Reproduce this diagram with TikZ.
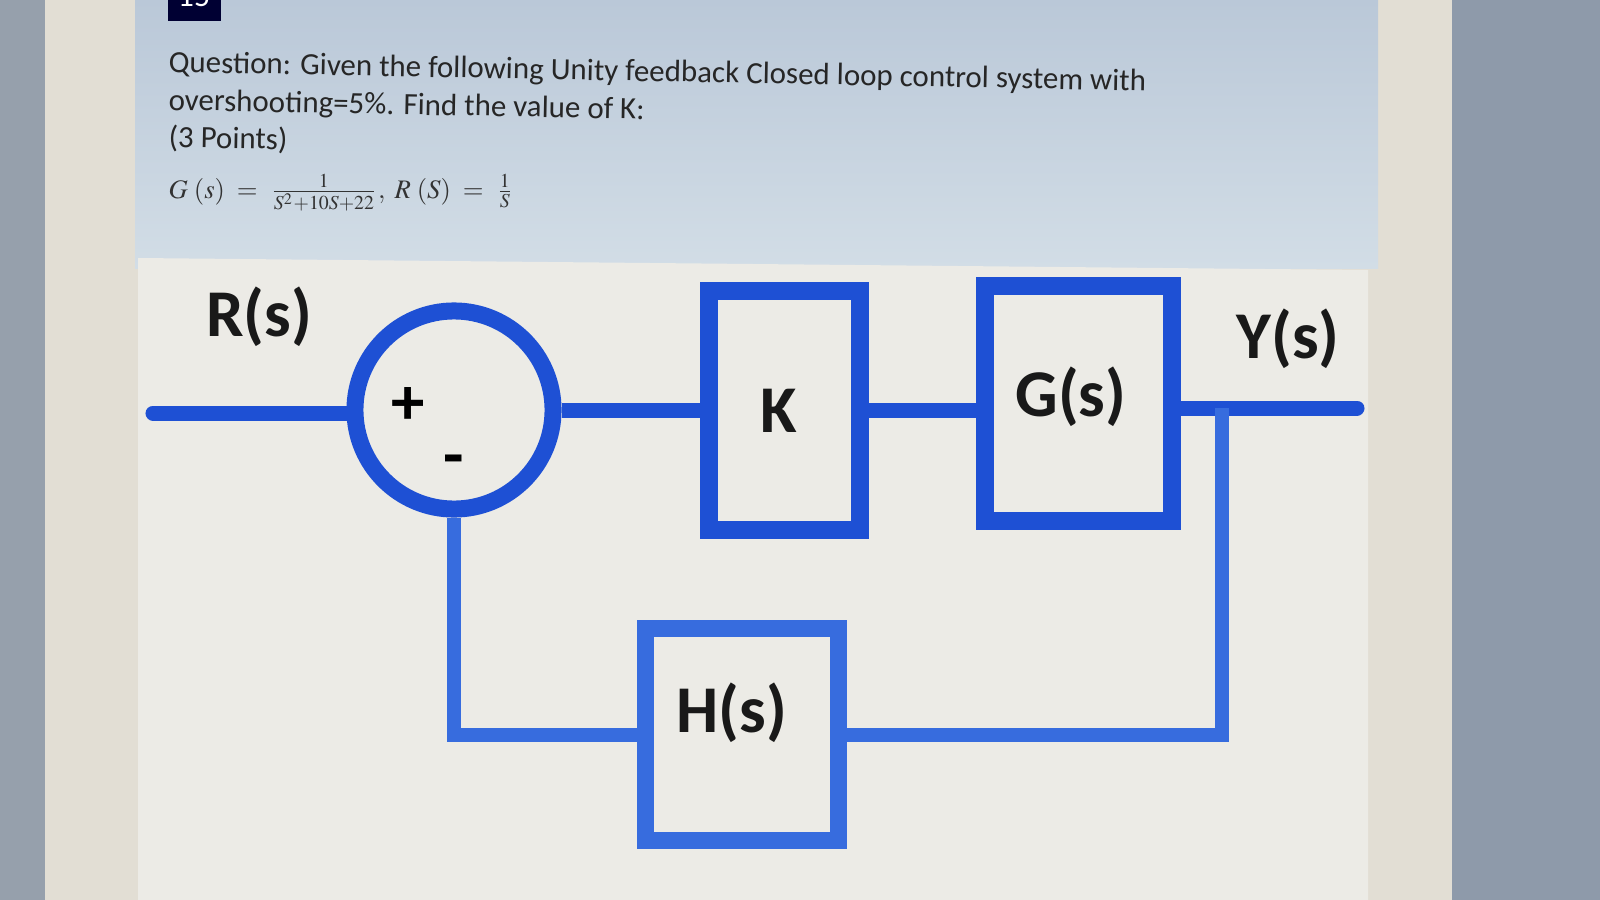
\documentclass[tikz,border=0pt]{standalone}
\usepackage{mathptmx}
\usepackage{fontspec}
\setmainfont{Carlito}
\begin{document}
\begin{tikzpicture}[x=0.01cm,y=-0.01cm,
  blk/.style={draw=bluebd, line width=0.18cm, rectangle, inner sep=0pt},
  fbblk/.style={draw=bluefb, line width=0.17cm, rectangle, inner sep=0pt},
  wire/.style={draw=bluebd, line width=0.15cm},
  fbwire/.style={draw=bluefb, line width=0.14cm},
  lbl/.style={font=\fontsize{19}{23}\selectfont\bfseries, text=black!90, inner sep=0pt},
  qtext/.style={font=\fontsize{8.8}{10}\selectfont, anchor=west, inner sep=0pt, text=black!85, rotate=-1.1}
]
\definecolor{bluebd}{RGB}{30,80,212}
\definecolor{bluefb}{RGB}{55,108,222}
\definecolor{bgbeige}{RGB}{226,222,212}
\definecolor{leftgray}{RGB}{150,160,172}
\definecolor{rightgray}{RGB}{142,154,170}
\definecolor{paneltop}{RGB}{186,200,216}
\definecolor{panelbot}{RGB}{210,221,230}
\definecolor{diagbg}{RGB}{236,235,230}
\useasboundingbox (0,0) rectangle (1600,900);
% background
\fill[bgbeige] (0,0) rectangle (1600,900);
\fill[leftgray] (0,0) rectangle (45,900);
\fill[rightgray] (1452,0) rectangle (1600,900);
\fill[top color=paneltop, bottom color=panelbot] (135,0) rectangle (1378,268);
\fill[diagbg] (138,258) -- (1368,270) -- (1368,900) -- (138,900) -- cycle;
% top tab
\fill[black!80!blue] (168,0) rectangle (221,21);
\begin{scope}
\clip (168,0) rectangle (221,21);
\node[text=white, font=\fontsize{9}{10}\selectfont] at (194,-4) {15};
\end{scope}
% question text
\node[qtext] (q1) at (168,64) {Question: Given the following Unity feedback Closed loop control system with};
\node[qtext] (q2) at (168,102) {overshooting=5\%. Find the value of K:};
\node[qtext] (q3) at (168,138) {(3 Points)};
\node[anchor=west, inner sep=0pt, font=\fontsize{7.6}{9}\selectfont, text=black!80] (eq) at (168,193)
  {$G\;(s) \;=\; \frac{1}{S^2+10S+22},\; R\;(S) \;=\; \frac{1}{S}$};
% blocks
\node[circle, draw=bluebd, line width=0.17cm, minimum size=1.98cm, inner sep=0pt] (sum) at (454,410) {};
\node[blk, minimum width=1.51cm, minimum height=2.39cm] (K) at (784.5,410.5) {};
\node[blk, minimum width=1.87cm, minimum height=2.35cm] (G) at (1078.5,403.5) {};
\node[fbblk, minimum width=1.92cm, minimum height=2.11cm] (H) at (742,734.5) {};
% labels
\node[lbl] (Rl) at (259,317) {R(s)};
\node[lbl] (Yl) at (1288,339) {Y(s)};
\node[lbl] (Kl) at (779,411) {K};
\node[lbl] (Gl) at (1071,397) {G(s)};
\node[lbl] (Hl) at (732,713) {H(s)};
\node[font=\fontsize{19}{23}\selectfont\bfseries, inner sep=0pt] (plus) at (408,406) {+};
\node[font=\fontsize{19}{23}\selectfont\bfseries, inner sep=0pt] (minus) at (454,466) {-};
% connectors
\coordinate (in) at (153,413);
\coordinate (out) at (1357,408);
\coordinate (fb) at (1222,408);
\draw[wire, line cap=round] (in) -- (in -| sum.west);
\draw[wire] (sum.east) -- (sum.east -| K.west);
\draw[wire] (K.east) -- (K.east -| G.west);
\draw[wire, line cap=round] (G.east |- out) -- (out);
\draw[fbwire] (fb) |- (H.east);
\draw[fbwire] (H.west) -| (sum.south);
\end{tikzpicture}
\end{document}
